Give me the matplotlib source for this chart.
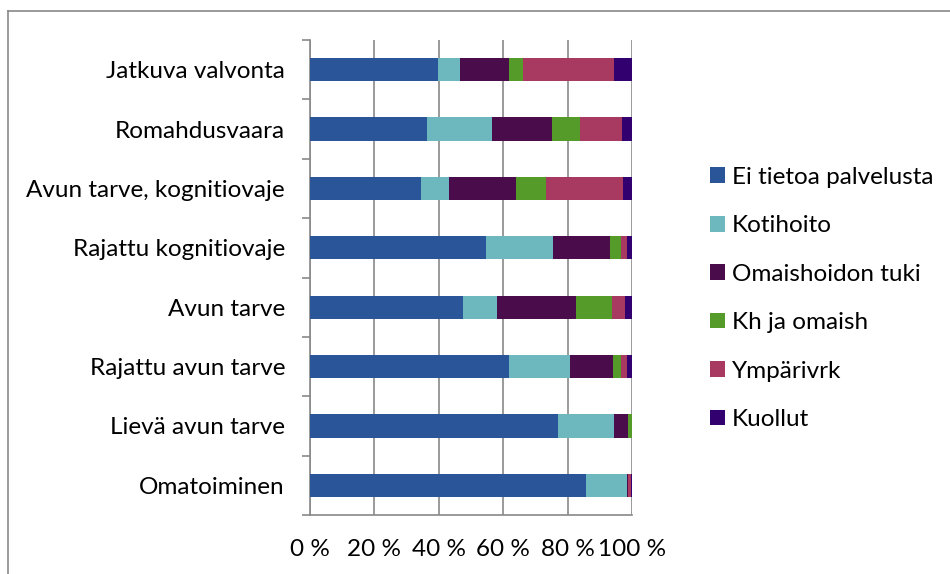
import matplotlib
matplotlib.use("Agg")
import matplotlib.pyplot as plt
from matplotlib.lines import Line2D
from matplotlib.patches import Patch
import numpy as np

categories = ["Omatoiminen", "Lievä avun tarve", "Rajattu avun tarve", "Avun tarve",
              "Rajattu kognitiovaje", "Avun tarve, kognitiovaje", "Romahdusvaara",
              "Jatkuva valvonta"]
series_names = ["Ei tietoa palvelusta", "Kotihoito", "Omaishoidon tuki",
                "Kh ja omaish", "Ympärivrk", "Kuollut"]
ei_tietoa = [85.7, 77.0, 61.7, 47.5, 54.6, 34.4, 36.3, 39.8]
kotihoito = [12.7, 17.3, 19.0, 10.6, 20.8, 8.8, 20.3, 6.8]
omaishoito = [0.5, 4.4, 13.3, 24.4, 17.7, 20.7, 18.5, 15.1]
kh_omaish = [0.0, 1.3, 2.6, 11.2, 3.4, 9.5, 8.6, 4.5]
ymparivrk = [0.8, 0.0, 1.8, 4.2, 1.9, 23.7, 13.1, 28.3]
kuollut = [0.3, 0.0, 1.6, 2.1, 1.6, 2.9, 3.2, 5.5]
xticks = [0, 20, 40, 60, 80, 100]
xtick_labels = ["0 %", "20 %", "40 %", "60 %", "80 %", "100 %"]

colors = ["#2A5699", "#6CB8BE", "#4B0C4C", "#549B2A", "#A83A62", "#33006F"]

plt.rcParams['font.family'] = ['Lato', 'DejaVu Sans']
FS = 17.5
fig = plt.figure(figsize=(9.5, 5.74), dpi=100)
ax = fig.add_axes([310/950, 1-515/574, 322/950, 475/574])

data = [ei_tietoa, kotihoito, omaishoito, kh_omaish, ymparivrk, kuollut]
y = np.arange(len(categories))
left = np.zeros(len(categories))
for vals, c, name in zip(data, colors, series_names):
    v = np.array(vals)
    ax.barh(y, v, left=left, height=0.39, color=c, label=name, zorder=3)
    left += v

ax.set_xlim(0, 100)
ax.set_ylim(-0.5, len(categories) - 0.5)
ax.set_xticks(xticks)
ax.set_xticklabels(xtick_labels, fontsize=FS)
ax.set_yticks(y)
ax.set_yticklabels(categories, fontsize=FS)
ax.tick_params(axis='y', length=0, pad=18)
ax.tick_params(axis='x', length=0, pad=17)
ax.set_yticks(np.arange(-0.5, len(categories), 1), minor=True)
ax.tick_params(axis='y', which='minor', length=6, width=1.2, color='#898989')
ax.set_xticks(xticks, minor=True)
ax.tick_params(axis='x', which='minor', length=6, width=1.2, color='#898989')
ax.grid(axis='x', color='#898989', linewidth=1.2, zorder=0)
for s in ['top', 'right']:
    ax.spines[s].set_visible(False)
for s in ['left', 'bottom']:
    ax.spines[s].set_color('#898989')
    ax.spines[s].set_linewidth(1.2)

handles = [Patch(facecolor=c, edgecolor='none') for c in colors]
fig.legend(handles, series_names, loc='upper left', bbox_to_anchor=(700/950, 1-157/574),
           frameon=False, fontsize=FS, handlelength=0.62, handleheight=0.62,
           handletextpad=0.3, labelspacing=1.13, borderaxespad=0)

fig.add_artist(Line2D([8/950, 8/950], [0, 1-11/574], color='#898989', linewidth=1.2,
                      transform=fig.transFigure))
fig.add_artist(Line2D([8/950, 1], [1-11/574, 1-11/574], color='#898989', linewidth=1.2,
                      transform=fig.transFigure))

fig.savefig("out.png", dpi=100)
